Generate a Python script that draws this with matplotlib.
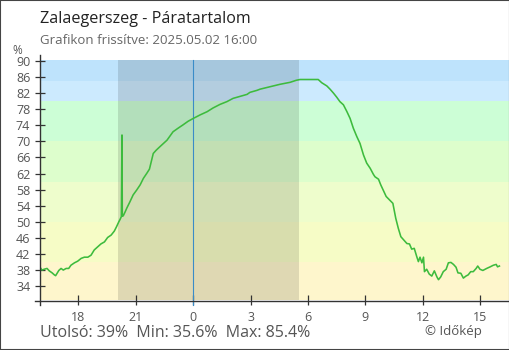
import matplotlib
matplotlib.use("Agg")
import matplotlib.pyplot as plt
from matplotlib.lines import Line2D
from matplotlib.patches import Rectangle

plt.rcParams['font.family'] = ['Open Sans', 'DejaVu Sans']

# minutes since 16:00 (previous day)
minutes = [0, 6, 13, 22, 29, 38, 45, 49, 52, 59, 66, 73, 82, 90, 97, 108, 118, 129, 139, 150,
           160, 170, 181, 191, 202, 212, 223, 233, 240, 247, 251, 255, 256, 257, 258, 261, 267,
           272, 282, 292, 303, 314, 324, 335, 343, 355, 364, 376, 398, 417, 433, 448, 464, 480,
           502, 524, 542, 564, 586, 605, 627, 649, 658, 680, 690, 721, 752, 784, 803, 815, 872,
           883, 899, 909, 920, 930, 940, 951, 962, 972, 982, 993, 1003, 1014, 1024, 1035, 1045,
           1050, 1061, 1068, 1085, 1106, 1115, 1123, 1131, 1139, 1150, 1158, 1165, 1173, 1181,
           1186, 1191, 1197, 1202, 1205, 1212, 1220, 1228, 1236, 1244, 1249, 1256, 1264, 1273,
           1280, 1288, 1296, 1304, 1310, 1319, 1327, 1335, 1342, 1350, 1358, 1367, 1372, 1379,
           1388, 1400, 1411, 1421, 1430, 1434, 1440]
humidity = [38.7, 38.0, 38.2, 38.4, 37.8, 37.3, 36.8, 36.6, 37.0, 37.9, 38.4, 38.0, 38.4, 38.4,
            39.2, 39.8, 40.2, 40.9, 41.2, 41.2, 41.7, 43.0, 43.8, 44.5, 45.0, 46.1, 46.7, 47.7,
            48.8, 50.0, 50.6, 51.3, 61.5, 71.6, 51.4, 51.5, 52.5, 53.4, 55.0, 56.7, 57.9, 59.2,
            60.8, 62.1, 63.1, 67.0, 67.8, 68.7, 70.3, 72.4, 73.3, 74.1, 75.0, 75.7, 76.6, 77.4,
            78.3, 79.2, 79.9, 80.7, 81.2, 81.7, 82.2, 82.7, 83.0, 83.6, 84.2, 84.7, 85.2, 85.4,
            85.4, 84.6, 83.8, 83.0, 82.0, 81.0, 79.9, 79.1, 77.4, 75.7, 73.3, 71.2, 69.5, 66.6,
            64.6, 63.3, 61.8, 61.2, 60.6, 59.2, 56.3, 54.6, 50.9, 48.4, 46.3, 45.6, 44.6, 44.5,
            43.2, 43.4, 41.3, 40.1, 41.2, 39.8, 41.2, 37.6, 38.2, 37.0, 36.5, 37.8, 36.3, 35.6,
            36.3, 37.6, 38.2, 39.8, 39.9, 39.4, 38.7, 37.3, 37.2, 36.0, 36.5, 36.8, 37.6, 37.6,
            38.4, 39.0, 38.2, 37.9, 38.4, 38.8, 39.2, 39.4, 38.8, 39.0]

x_ticks = [120, 300, 480, 660, 840, 1020, 1200, 1380]
x_labels = ["18", "21", "0", "3", "6", "9", "12", "15"]
y_ticks = [34, 38, 42, 46, 50, 54, 58, 62, 66, 70, 74, 78, 82, 86, 90]

band_edges = [30.55, 40, 50, 60, 70, 80, 85, 90.25]
band_colors = ['#fef6cc', '#f6fcc6', '#eefdcc', '#ddfecc', '#ccfed6', '#cceafe', '#bee3fc']
night_start, night_end = 244, 812

W, H = 510, 350
fig = plt.figure(figsize=(W / 100, H / 100), dpi=100)
fig.patch.set_facecolor('white')
ax = fig.add_axes([40 / W, 50 / H, 469 / W, 240 / H])

for lo, hi, c in zip(band_edges[:-1], band_edges[1:], band_colors):
    ax.axhspan(lo, hi, color=c, lw=0, zorder=0)
ax.axvspan(night_start, night_end, color='black', alpha=0.12, lw=0, zorder=1)
ax.axvline(480, ymin=-5 / 240, ymax=1, color='#3a8cc8', lw=0.8, zorder=2, clip_on=False)

ax.plot(minutes, humidity, color='#3dbb3d', lw=1.15, zorder=3)

ax.set_xlim(0, 1470)
ax.set_ylim(30.55, 90.25)
ax.set_xticks(x_ticks)
ax.set_xticklabels(x_labels)
ax.set_yticks(y_ticks)
for s in ax.spines.values():
    s.set_visible(False)
ax.tick_params(direction='inout', length=7, width=0.9, color='#333333',
               labelcolor='#555555', labelsize=9)
ax.tick_params(axis='y', pad=3.5)
ax.tick_params(axis='x', pad=4.5)

# axis lines (extend slightly beyond plot area)
fig.add_artist(Line2D([40.5 / W, 40.5 / W], [1 - 305 / H, 1 - 55 / H], color='#333333', lw=1.0))
fig.add_artist(Line2D([35 / W, 509 / W], [1 - 300.5 / H, 1 - 300.5 / H], color='#333333', lw=1.0))

# figure border
fig.add_artist(Rectangle((0, 0), 1, 1, transform=fig.transFigure, fill=False,
                         edgecolor='#444444', lw=1.5))

fig.text(40 / W, 1 - 19 / H, "Zalaegerszeg - Páratartalom", fontsize=11.6, color='#222222',
         va='center', ha='left')
fig.text(40 / W, 1 - 40 / H, "Grafikon frissítve: 2025.05.02 16:00", fontsize=9.5,
         color='#666666', va='center', ha='left')
fig.text(17.5 / W, 1 - 51 / H, "%", fontsize=8.5, color='#555555', va='center', ha='center')
fig.text(40 / W, 1 - 333 / H, "Utolsó: 39%  Min: 35.6%  Max: 85.4%", fontsize=11.5,
         color='#555555', va='center', ha='left')
fig.text(482 / W, 1 - 331.5 / H, "© Időkép", fontsize=9.5, color='#555555',
         va='center', ha='right')

fig.savefig('out.png', dpi=100)
